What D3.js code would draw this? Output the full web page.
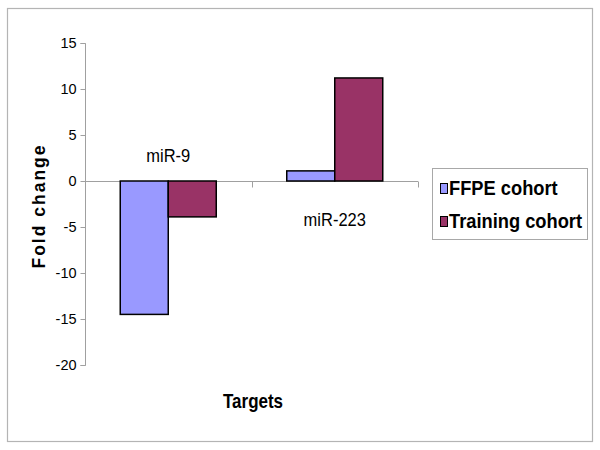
<!DOCTYPE html>
<html><head><meta charset="utf-8">
<script src="https://cdn.jsdelivr.net/npm/d3@7"></script>
<style>html,body{margin:0;padding:0;background:#fff}svg{display:block}</style>
</head><body>
<svg id="chart" width="600" height="450"></svg>
<script>
const categories = ["miR-9", "miR-223"];
const seriesNames = ["FFPE cohort", "Training cohort"];
const ffpeValues = [-14.5, 1.1];
const trainingValues = [-3.9, 11.2];
const yTicks = [15, 10, 5, 0, -5, -10, -15, -20];
const colors = ["#9999FF", "#993366"];

const seriesValues = [ffpeValues, trainingValues];
const svg = d3.select("#chart");
const font = "Arial, 'Liberation Sans', sans-serif";

// outer border
svg.append("rect").attr("x", 7.5).attr("y", 8.5).attr("width", 585).attr("height", 433)
  .attr("fill", "#fff").attr("stroke", "#b4b4b4").attr("stroke-width", 1.2);

const y = d3.scaleLinear().domain([-20, 15]).range([365, 43]);
const x = d3.scaleBand().domain(categories).range([85, 418]).paddingInner(0).paddingOuter(0);
const bw = x.bandwidth();
const groupW = 96;
const xs = d3.scaleBand().domain(seriesNames).range([(bw - groupW) / 2, (bw + groupW) / 2]).padding(0);

// y axis
const yAxis = d3.axisLeft(y).tickValues(yTicks).tickSize(5).tickPadding(4).tickFormat(d => String(d));
const gy = svg.append("g").attr("transform", "translate(85.5,0)").call(yAxis);
gy.select(".domain").attr("stroke", "#a0a0a0").attr("d", `M-5,${y(15)+0.5}H0V${y(-20)+0.5}H-5`);
gy.selectAll(".tick line").attr("stroke", "#a0a0a0");
gy.selectAll(".tick text").attr("font-family", font).attr("font-size", 14.5).attr("fill", "#000")
  .attr("transform", "scale(1,1.05)").attr("y", function () { return 0; });

// bars
const data = [];
categories.forEach((c, i) => seriesNames.forEach((s, j) => data.push({c, s, v: seriesValues[j][i], j})));

// category axis at zero
const x0 = y(0) + 0.5;
const ax = svg.append("g");
ax.append("line").attr("x1", 85).attr("x2", 418).attr("y1", x0).attr("y2", x0).attr("stroke", "#a0a0a0");
const bounds = categories.map(c => x(c)).concat([x(categories[categories.length - 1]) + bw]);
ax.selectAll("line.t").data(bounds.slice(1)).join("line").attr("class", "t")
  .attr("x1", d => Math.round(d) + 0.5).attr("x2", d => Math.round(d) + 0.5)
  .attr("y1", x0).attr("y2", x0 + 6).attr("stroke", "#a0a0a0");

svg.append("g").selectAll("rect").data(data).join("rect")
  .attr("x", d => x(d.c) + xs(d.s))
  .attr("width", xs.bandwidth())
  .attr("y", d => Math.min(y(d.v), y(0)))
  .attr("height", d => Math.abs(y(d.v) - y(0)))
  .attr("fill", d => colors[d.j])
  .attr("stroke", "#000").attr("stroke-width", 1.5);

// category labels: opposite side of bars
svg.append("g").selectAll("text").data(categories).join("text")
  .attr("transform", (c, i) => `translate(${x(c) + bw / 2},${ffpeValues[i] < 0 ? y(0) - 19 : y(0) + 45}) scale(1,1.15)`)
  .attr("text-anchor", "middle")
  .attr("font-family", font).attr("font-size", 16.5)
  .text(c => c);

// axis titles
svg.append("text").attr("transform", "translate(45,206) rotate(-90)")
  .attr("text-anchor", "middle").attr("font-family", font).attr("font-weight", "bold")
  .attr("font-size", 17.5).attr("letter-spacing", 2).text("Fold change");
svg.append("text").attr("transform", "translate(253,408) scale(1,1.18)")
  .attr("text-anchor", "middle").attr("font-family", font).attr("font-weight", "bold")
  .attr("font-size", 17).text("Targets");

// legend
const lg = svg.append("g");
lg.append("rect").attr("x", 432.5).attr("y", 168.5).attr("width", 155).attr("height", 71)
  .attr("fill", "#fff").attr("stroke", "#a8a8a8");
const items = lg.selectAll("g.item").data(seriesNames).join("g").attr("class", "item")
  .attr("transform", (d, i) => `translate(440,${195 + i * 33})`);
items.append("rect").attr("x", 0.5).attr("y", -11.5).attr("width", 7).attr("height", 10)
  .attr("fill", (d, i) => colors[i]).attr("stroke", "#000").attr("stroke-width", 1);
items.append("text").attr("x", 9).attr("y", 0).attr("transform", "scale(1,1.08)")
  .attr("font-family", font).attr("font-weight", "bold").attr("font-size", 18.3)
  .text(d => d);
</script>
</body></html>
